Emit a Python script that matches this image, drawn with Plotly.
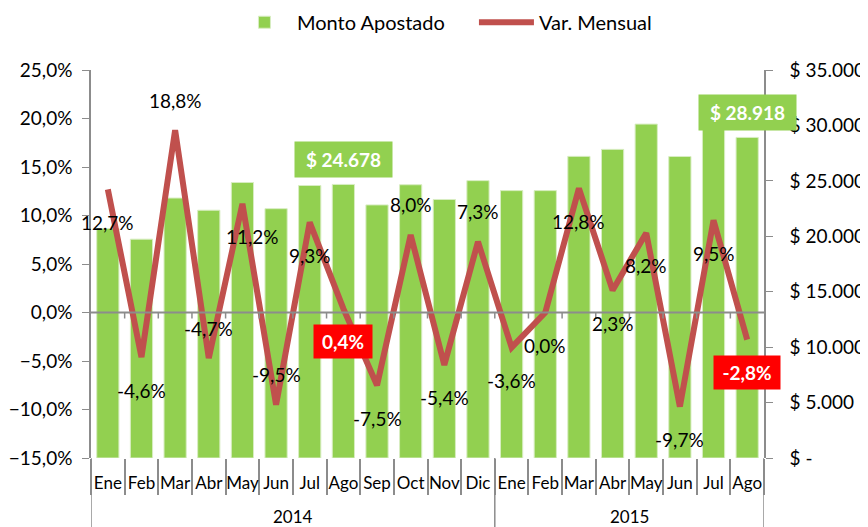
import plotly.graph_objects as go

# datos
years = ["2014"] * 12 + ["2015"] * 8
months = ["Ene", "Feb", "Mar", "Abr", "May", "Jun", "Jul", "Ago", "Sep", "Oct", "Nov", "Dic",
          "Ene", "Feb", "Mar", "Abr", "May", "Jun", "Jul", "Ago"]
monto = [20690, 19740, 23450, 22350, 24850, 22490, 24580, 24678, 22830, 24650, 23320, 25020,
         24120, 24120, 27210, 27840, 30120, 27200, 29780, 28918]
var_mensual = [12.7, -4.6, 18.8, -4.7, 11.2, -9.5, 9.3, 0.4, -7.5, 8.0, -5.4, 7.3,
               -3.6, 0.0, 12.8, 2.3, 8.2, -9.7, 9.5, -2.8]

FONT = "Lato"
GREEN = "#92D050"
RED = "#C0504D"
AXIS = "#8c8c8c"

cats = [f"{m} {y}" for m, y in zip(months, years)]

fig = go.Figure()
fig.add_trace(go.Bar(x=cats, y=monto, name="Monto Apostado",
                     marker=dict(color=GREEN, line=dict(color="#d8edc2", width=1)),
                     yaxis="y"))
fig.add_trace(go.Scatter(x=cats, y=var_mensual, name="Var. Mensual",
                         mode="lines", line=dict(color=RED, width=6),
                         yaxis="y2"))

def pct(v):
    return f"{v:.1f}%".replace(".", ",")

def pesos(v):
    return "$ -" if v == 0 else "$ " + f"{v:,}".replace(",", ".")

annotations = []
above = {2, 3, 5, 9, 11}
highlight = {7, 19}
for i, v in enumerate(var_mensual):
    if i in highlight:
        annotations.append(dict(x=cats[i], y=v, xref="x", yref="y2", text="<b>" + pct(v) + "</b>",
                                showarrow=False, yshift=-33, bgcolor="#FF0000", borderpad=6,
                                width=46 if v >= 0 else 54, height=21,
                                font=dict(family=FONT, size=19, color="white")))
        continue
    annotations.append(dict(x=cats[i], y=v, xref="x", yref="y2", text=pct(v), showarrow=False,
                            yshift=30 if i in above else -33, xshift=10 if i == 4 else 0,
                            font=dict(family=FONT, size=19, color="black")))

for i in (7, 19):
    annotations.append(dict(x=cats[i], y=monto[i], xref="x", yref="y", text="<b>" + pesos(monto[i]) + "</b>",
                            showarrow=False, yshift=25, bgcolor=GREEN, borderpad=6,
                            width=85, height=23,
                            font=dict(family=FONT, size=19, color="white")))

# etiquetas de año bajo los meses
for yr in ("2014", "2015"):
    idx = [i for i, y in enumerate(years) if y == yr]
    annotations.append(dict(x=(idx[0] + idx[-1]) / 2, y=0, xref="x", yref="paper", yshift=-58,
                            yanchor="middle", text=yr, showarrow=False,
                            font=dict(family=FONT, size=17)))

shapes = [dict(type="line", xref="paper", x0=0, x1=1, yref="y2", y0=0, y1=0,
               line=dict(color=AXIS, width=2), layer="above")]
for k in range(1, 20):
    shapes.append(dict(type="line", xref="x", x0=k - 0.5, x1=k - 0.5, yref="y2",
                       ysizemode="pixel", yanchor=0, y0=0, y1=-6,
                       line=dict(color=AXIS, width=1.5), layer="above"))
# divisores de año
for k in (0, years.index("2015"), len(years)):
    shapes.append(dict(type="line", xref="x", x0=k - 0.5, x1=k - 0.5, yref="paper",
                       y0=0, y1=-0.2, line=dict(color=AXIS, width=1.5)))

dollar_ticks = list(range(0, 35001, 5000))

fig.update_layout(
    width=868, height=527,
    margin=dict(l=83, r=112, t=62, b=77),
    plot_bgcolor="white", paper_bgcolor="white",
    separators=",.",
    font=dict(family=FONT, size=18, color="black"),
    bargap=0.34,
    showlegend=True,
    legend=dict(orientation="h", xref="container", yref="container",
                x=0.258, xanchor="left", y=0.973, yanchor="middle", itemwidth=55,
                entrywidth=172,
                font=dict(family=FONT, size=20), traceorder="normal"),
    xaxis=dict(type="category", range=[-0.5, len(cats) - 0.5], showgrid=False, showline=False,
               automargin=False, tickangle=0, tickvals=cats, ticktext=months,
               ticks="outside", tickson="boundaries", ticklen=36, tickcolor=AXIS, tickwidth=1.5,
               ticklabelstandoff=13,
               tickfont=dict(family=FONT, size=17)),
    yaxis=dict(side="right", range=[0, 35000], tickvals=dollar_ticks, automargin=False,
               ticktext=[pesos(v) for v in dollar_ticks], showgrid=False, zeroline=False,
               showline=True, linecolor=AXIS, linewidth=1.5, ticks="outside", ticklen=7,
               ticklabelstandoff=13,
               tickcolor=AXIS, tickfont=dict(family=FONT, size=19)),
    yaxis2=dict(side="left", overlaying="y", range=[-15, 25], dtick=5, tickformat=".1f",
                ticksuffix="%", showgrid=False, zeroline=False, automargin=False,
                showline=True, linecolor=AXIS, linewidth=1.5, ticks="outside", ticklen=7,
                ticklabelstandoff=6,
                tickcolor=AXIS, tickfont=dict(family=FONT, size=19)),
    annotations=annotations,
    shapes=shapes,
)

fig.write_html("out.html")
